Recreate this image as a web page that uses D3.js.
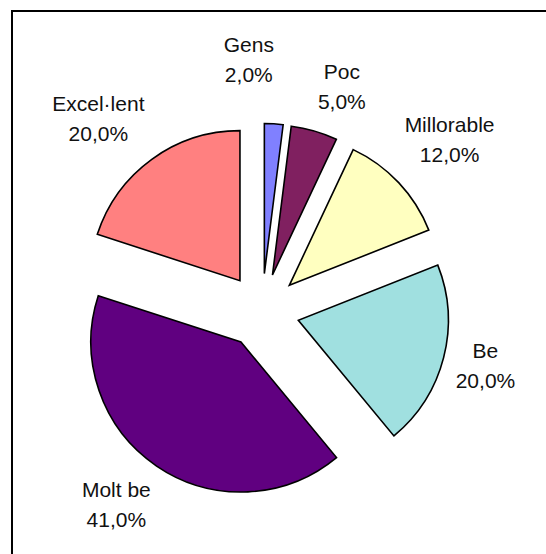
<!DOCTYPE html>
<html>
<head>
<meta charset="utf-8">
<script src="https://cdn.jsdelivr.net/npm/d3@7"></script>
<style>
  html, body { margin: 0; padding: 0; background: #fff; }
  svg { display: block; }
</style>
</head>
<body>
<svg id="chart" width="546" height="554"></svg>
<script>
// ---- data ----
const categories = ["Gens", "Poc", "Millorable", "Be", "Molt be", "Excel·lent"];
const values = [2, 5, 12, 20, 41, 20];
const colors = ["#8080FF", "#802060", "#FFFFC0", "#A0E0E0", "#600080", "#FF8080"];

// ---- layout (label placement, polar around pie centre: degrees clockwise from top, radius px) ----
const labelAngles = [-3, 19.6, 47.6, 103.7, 217, 319.7];
const labelRadii = [252, 238, 254, 230, 242, 253];

const W = 546, H = 554;
const cx = 262, cy = 311, R = 150, explode = 37.5;

const svg = d3.select("#chart");

// frame
svg.append("rect")
  .attr("x", 12).attr("y", 11)
  .attr("width", W + 20).attr("height", H + 20)
  .attr("fill", "#fff")
  .attr("stroke", "#000")
  .attr("stroke-width", 2);

const total = d3.sum(values);
const pie = d3.pie().sort(null).value(d => d.value).startAngle(0).endAngle(2 * Math.PI);
const data = categories.map((c, i) => ({ name: c, value: values[i], color: colors[i] }));
const arcs = pie(data);
const arc = d3.arc().innerRadius(0).outerRadius(R);

const g = svg.append("g").attr("transform", `translate(${cx},${cy})`);

g.selectAll("path.slice")
  .data(arcs)
  .join("path")
  .attr("class", "slice")
  .attr("d", arc)
  .attr("fill", d => d.data.color)
  .attr("stroke", "#000")
  .attr("stroke-width", 1.6)
  .attr("stroke-linejoin", "miter")
  .attr("transform", d => {
    const a = (d.startAngle + d.endAngle) / 2;
    return `translate(${explode * Math.sin(a)},${-explode * Math.cos(a)})`;
  });

const fmt = v => (v / total * 100).toFixed(1).replace(".", ",") + "%";

const labels = g.selectAll("g.label")
  .data(arcs)
  .join("g")
  .attr("class", "label")
  .attr("transform", (d, i) => {
    const a = labelAngles[i] * Math.PI / 180;
    const r = labelRadii[i];
    return `translate(${r * Math.sin(a)},${-r * Math.cos(a)})`;
  });

labels.append("text")
  .attr("text-anchor", "middle")
  .attr("y", -7.5)
  .attr("font-family", "Arial, 'Liberation Sans', sans-serif")
  .attr("font-size", 21)
  .attr("fill", "#111")
  .text(d => d.data.name);

labels.append("text")
  .attr("text-anchor", "middle")
  .attr("y", 22.5)
  .attr("font-family", "Arial, 'Liberation Sans', sans-serif")
  .attr("font-size", 21)
  .attr("fill", "#111")
  .text(d => fmt(d.data.value));
</script>
</body>
</html>
